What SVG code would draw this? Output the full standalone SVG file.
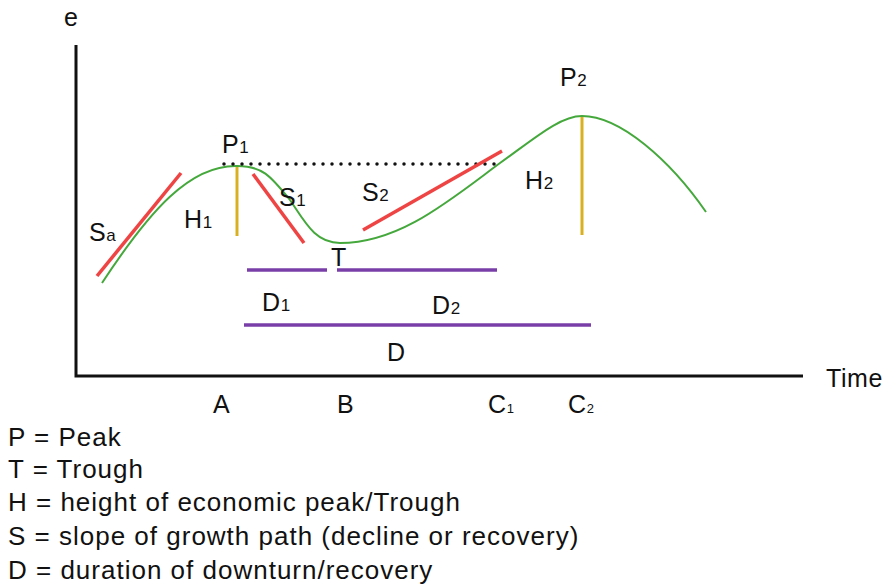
<svg xmlns="http://www.w3.org/2000/svg" width="887" height="587" viewBox="0 0 887 587">
<style>
text{font-family:"Liberation Sans",Arial,sans-serif;fill:#111;font-size:25px;letter-spacing:0.6px}
.sub{font-size:17px;letter-spacing:0}
.tiny{font-size:13px;letter-spacing:0}
.leg{font-size:26px;letter-spacing:1px}
.ax{stroke:#111;stroke-width:3;fill:none}
.curve{stroke:#45a83c;stroke-width:2;fill:none}
.slope{stroke:#ee4444;stroke-width:3.5;fill:none}
.h{stroke:#d8b020;stroke-width:3;fill:none}
.d{stroke:#7a3ea8;stroke-width:3.5;fill:none}
.dot{stroke:#111;stroke-width:3.5;stroke-linecap:round;stroke-dasharray:0 9;fill:none}
</style>
<rect width="887" height="587" fill="#fff"/>
<g id="axes">
<path class="ax" d="M76,45 V376 H803"/>
<text x="64" y="26">e</text>
<text x="826" y="387">Time</text>
</g>
<g id="connectors">
<path id="growth-path" class="curve" d="M102,283 C150,210 190,165 237,166 C262,166 270,175 290,200 C305,222 315,243 340,243 C400,243 450,200 500,163 C535,138 560,116 582,116 C620,116 670,160 706,212"/>
<path id="peak-level" class="dot" d="M224,164 H500"/>
</g>
<g id="Sa"><path class="slope" d="M97,276 L181,173"/><text x="89" y="241">S<tspan class="sub">a</tspan></text></g>
<g id="S1"><path class="slope" d="M253,174 L304,243"/><text x="279" y="206">S<tspan class="sub">1</tspan></text></g>
<g id="S2"><path class="slope" d="M363,230 L502,151"/><text x="362" y="201">S<tspan class="sub">2</tspan></text></g>
<g id="P1"><text x="222" y="153">P<tspan class="sub">1</tspan></text></g>
<g id="P2"><text x="560" y="86">P<tspan class="sub">2</tspan></text></g>
<g id="H1"><path class="h" d="M237,167 V236"/><text x="184" y="228">H<tspan class="sub">1</tspan></text></g>
<g id="H2"><path class="h" d="M582,117 V235"/><text x="525" y="189">H<tspan class="sub">2</tspan></text></g>
<g id="T"><text x="331" y="266">T</text></g>
<g id="D1"><path class="d" d="M247,270 H327"/><text x="262" y="311">D<tspan class="sub">1</tspan></text></g>
<g id="D2"><path class="d" d="M337,270 H497"/><text x="432" y="314">D<tspan class="sub">2</tspan></text></g>
<g id="D"><path class="d" d="M244,325 H591"/><text x="387" y="361">D</text></g>
<g id="ticks">
<text x="213" y="413">A</text>
<text x="337" y="413">B</text>
<text x="488" y="413">C<tspan class="tiny">1</tspan></text>
<text x="568" y="413">C<tspan class="tiny">2</tspan></text>
</g>
<g id="legend">
<text class="leg" x="8" y="446">P = Peak</text>
<text class="leg" x="8" y="478">T = Trough</text>
<text class="leg" x="8" y="511">H = height of economic peak/Trough</text>
<text class="leg" x="8" y="545">S = slope of growth path (decline or recovery)</text>
<text class="leg" x="8" y="579">D = duration of downturn/recovery</text>
</g>
</svg>
